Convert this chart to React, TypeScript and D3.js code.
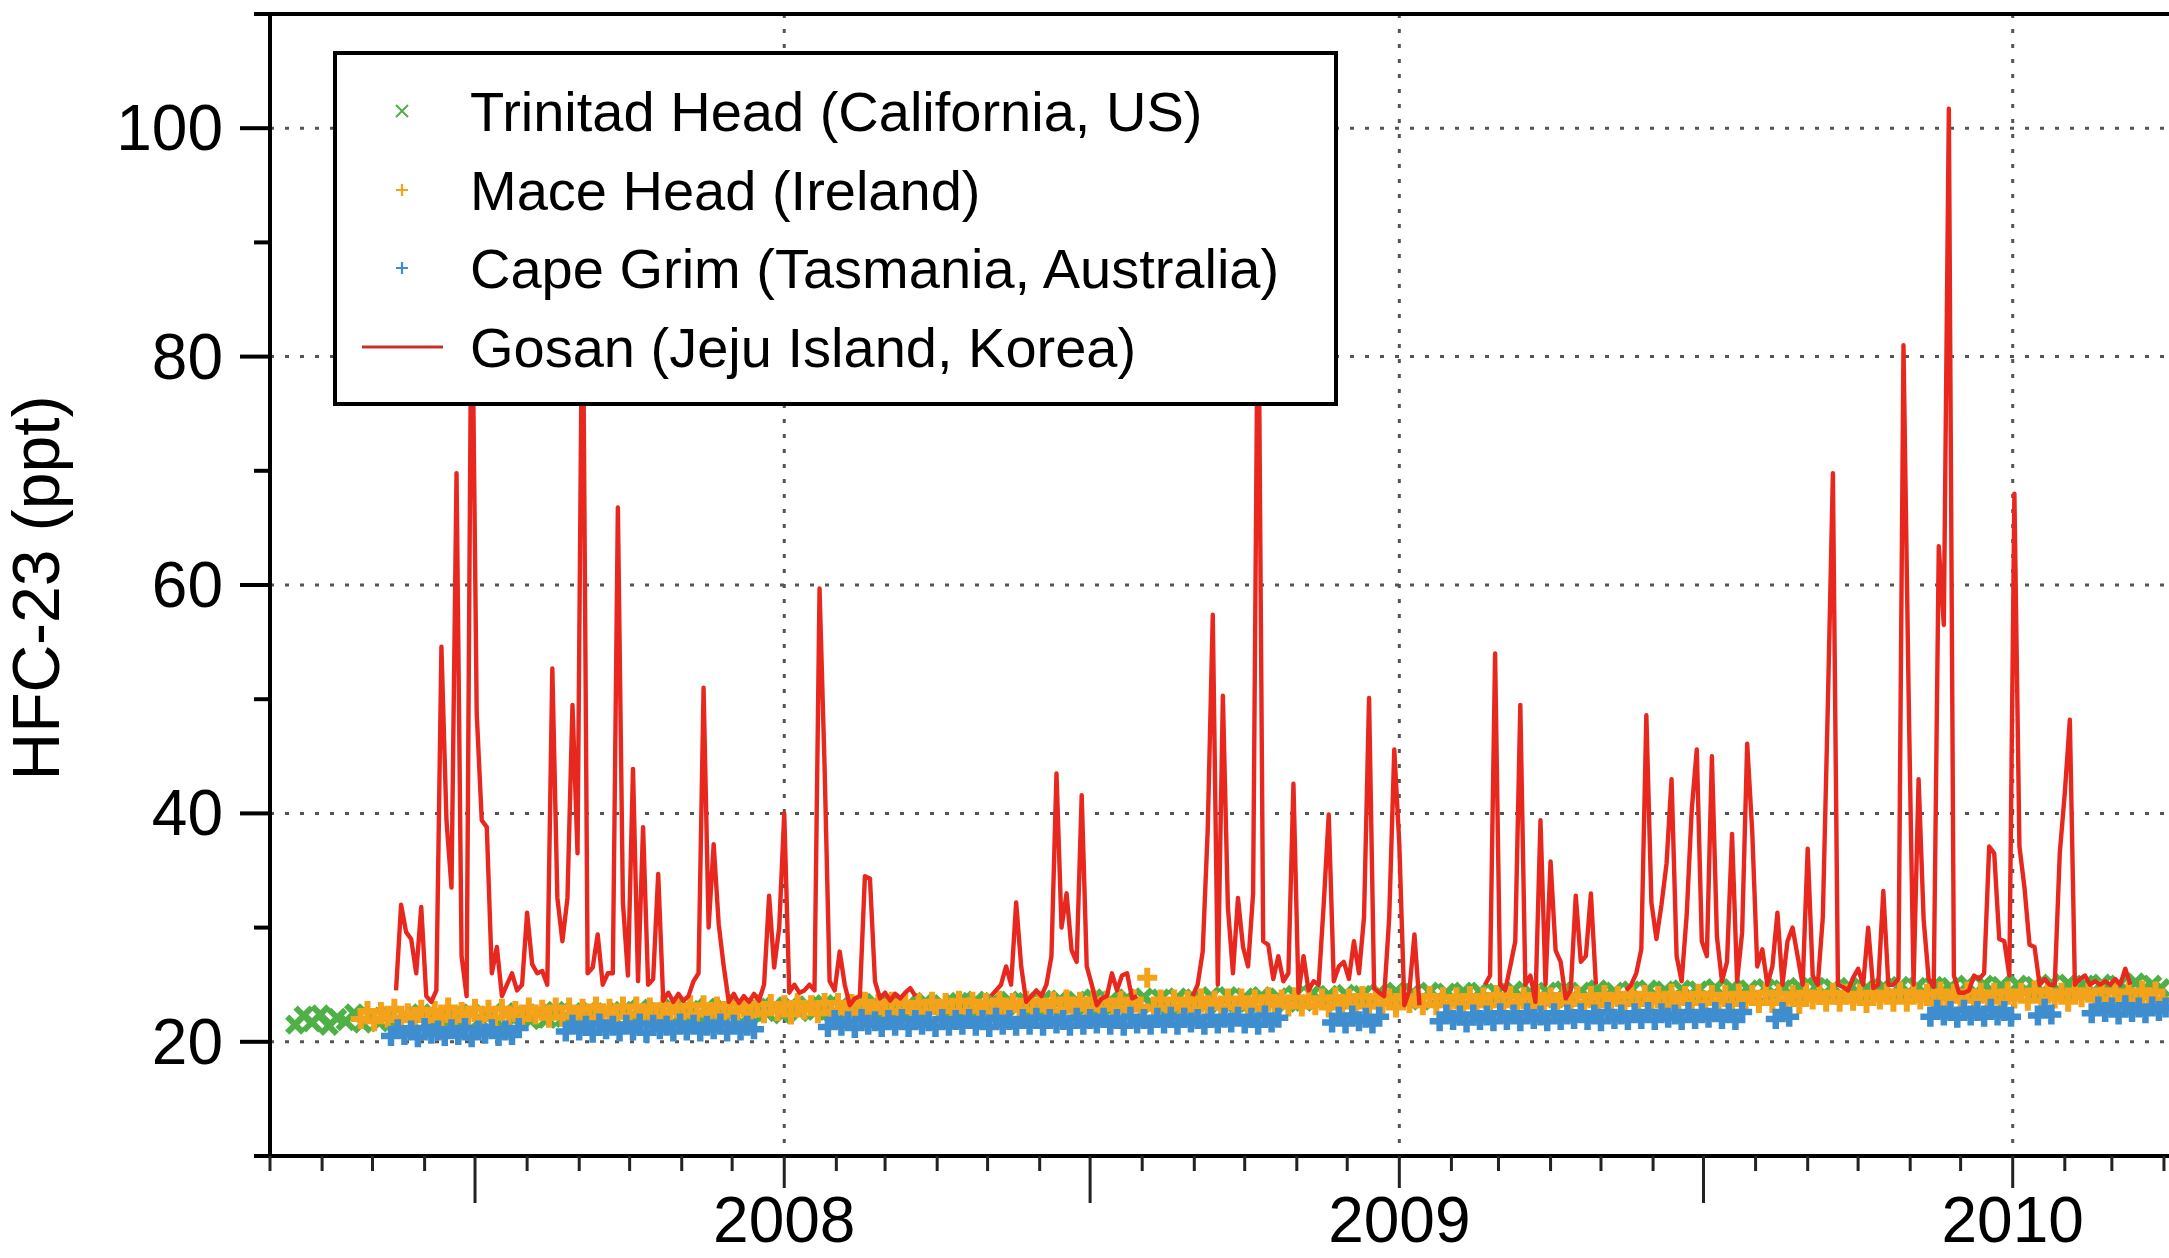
import * as d3 from "d3";

const W = 2169;
const H = 1258;
const frame = { left: 270, right: 2169, top: 14, bottom: 1156 };

const xDomain = ["2007-03-01", "2010-04-04"];
const yDomain = [10, 110];
const yMajorTicks = [20, 40, 60, 80, 100];
const yMinorTicks = [10, 30, 50, 70, 90, 110];
const yearTicks = ["2008-01-01", "2009-01-01", "2010-01-01"];

const stationNames = [
  "Trinitad Head (California, US)",
  "Mace Head (Ireland)",
  "Cape Grim (Tasmania, Australia)",
  "Gosan (Jeju Island, Korea)",
];
const stationColors = ["#4fb047", "#f5a21b", "#3e8dcf", "#e8281e"];

// Trinidad Head, one reading every 5 days
const trinidadStart = "2007-03-16";
const trinidadStep = 5;
const trinidadHead = [
  21.5, 22.3, 21.7, 22.4, 21.4, 22.1, 21.8, 22.5, 21.6, 22.2,
  21.7, 22.4, 21.8, 22.3, 21.6, 22.5, 21.9, 22.2, 21.7, 22.4,
  21.8, 22.5, 21.9, 22.3, 21.8, 22.6, 22.0, 22.4, 21.9, 22.5,
  22.0, 22.7, 22.1, 22.6, 21.9, 22.8, 22.2, 22.6, 22.0, 22.7,
  22.2, 22.9, 22.3, 22.8, 22.1, 22.9, 22.4, 22.8, 22.2, 23.0,
  22.4, 23.0, 22.5, 23.1, 22.3, 23.0, 22.6, 23.1, 22.4, 23.2,
  22.6, 23.2, 22.7, 23.3, 22.5, 23.2, 22.8, 23.3, 22.6, 23.4,
  22.7, 23.4, 22.8, 23.3, 22.7, 23.5, 22.9, 23.3, 22.8, 23.5,
  22.9, 23.6, 23.0, 23.5, 22.9, 23.6, 23.1, 23.5, 23.0, 23.7,
  23.0, 23.7, 23.1, 23.6, 23.0, 23.8, 23.2, 23.6, 23.1, 23.8,
  23.2, 23.9, 23.3, 23.8, 23.2, 23.9, 23.4, 23.8, 23.3, 24.0,
  23.3, 24.0, 23.4, 23.9, 23.3, 24.0, 23.5, 23.9, 23.4, 24.1,
  23.5, 24.2, 23.6, 24.1, 23.5, 24.2, 23.7, 24.1, 23.6, 24.3,
  23.6, 24.4, 23.7, 24.3, 23.6, 24.4, 23.8, 24.3, 23.7, 24.4,
  23.7, 24.4, 23.8, 24.3, 23.7, 24.5, 23.9, 24.3, 23.8, 24.4,
  23.8, 24.5, 23.9, 24.4, 23.8, 24.6, 24.0, 24.4, 23.9, 24.5,
  23.9, 24.6, 24.0, 24.5, 23.9, 24.6, 24.1, 24.5, 24.0, 24.7,
  24.0, 24.7, 24.1, 24.6, 24.0, 24.7, 24.2, 24.6, 24.1, 24.8,
  24.1, 24.8, 24.2, 24.7, 24.1, 24.8, 24.3, 24.7, 24.2, 24.8,
  24.2, 24.9, 24.3, 24.8, 24.2, 24.9, 24.4, 24.8, 24.3, 25.0,
  24.3, 25.0, 24.4, 24.9, 24.3, 25.0, 24.5, 24.9, 24.4, 25.1,
  24.4, 25.1, 24.5, 25.0, 24.4, 25.1, 24.6, 25.0, 24.5, 25.2,
  24.6, 25.0, 24.7,
];

// Mace Head, one reading every 4 days
const maceStart = "2007-04-24";
const maceStep = 4;
const maceHead = [
  22.0, 22.7, 21.8, 22.6, 22.1, 22.9, 21.9, 22.5, 22.2, 22.8,
  21.9, 22.7, 22.2, 23.0, 21.9, 22.6, 22.3, 22.9, 22.0, 22.8,
  22.1, 22.9, 22.3, 22.7, 22.0, 23.0, 22.4, 22.8, 22.1, 23.0,
  22.2, 23.0, 22.4, 22.9, 22.1, 23.1, 22.5, 22.9, 22.2, 23.1,
  22.3, 23.1, 22.5, 23.0, 22.2, 23.2, 22.6, 23.0, 22.3, 23.2,
  22.4, 23.2, 22.6, 23.1, 22.3, 23.3, 22.7, 23.1, 22.4, 23.3,
  22.5, 23.3, 22.7, 23.2, 22.4, 23.4, 22.8, 23.2, 22.5, 23.4,
  22.6, 23.4, 22.8, 23.3, 22.5, 23.5, 22.9, 23.3, 22.6, 23.5,
  22.7, 23.4, 22.8, 23.4, 22.6, 23.5, 22.9, 23.4, 22.7, 23.6,
  22.7, 23.5, 22.9, 23.4, 22.6, 23.6, 23.0, 23.4, 22.8, 23.6,
  22.8, 23.6, 23.0, 23.5, 22.7, 23.7, 23.1, 23.5, 22.9, 23.7,
  22.9, 23.6, 23.0, 23.6, 22.8, 23.7, 23.1, 25.6, 22.9, 23.7,
  22.9, 23.7, 23.1, 23.6, 22.8, 23.8, 23.2, 23.6, 23.0, 23.8,
  23.0, 23.8, 23.2, 23.7, 22.9, 23.9, 23.3, 23.7, 23.1, 23.9,
  23.1, 23.8, 23.2, 23.8, 23.0, 23.9, 23.3, 23.8, 23.1, 24.0,
  23.1, 23.9, 23.3, 23.8, 23.0, 24.0, 23.4, 23.8, 23.2, 24.0,
  23.2, 23.9, 23.3, 23.9, 23.1, 24.0, 23.4, 23.9, 23.2, 24.1,
  23.2, 24.0, 23.4, 23.9, 23.1, 24.1, 23.5, 23.9, 23.3, 24.1,
  23.3, 24.0, 23.4, 24.0, 23.2, 24.1, 23.5, 24.0, 23.3, 24.2,
  23.3, 24.1, 23.5, 24.0, 23.2, 24.2, 23.6, 24.0, 23.4, 24.2,
  23.4, 24.1, 23.5, 24.1, 23.3, 24.2, 23.6, 24.1, 23.4, 24.3,
  23.4, 24.2, 23.6, 24.1, 23.3, 24.3, 23.7, 24.1, 23.5, 24.3,
  23.5, 24.2, 23.6, 24.2, 23.4, 24.3, 23.7, 24.2, 23.5, 24.4,
  23.5, 24.3, 23.7, 24.2, 23.4, 24.4, 23.8, 24.2, 23.6, 24.4,
  23.6, 24.3, 23.7, 24.3, 23.5, 24.4, 23.8, 24.3, 23.6, 24.5,
  23.6, 24.4, 23.8, 24.3, 23.5, 24.5, 23.9, 24.3, 23.7, 24.5,
  23.7, 24.4, 23.8, 24.4, 23.6, 24.5, 23.9, 24.4, 23.7,
];

// Cape Grim, one reading every 4 days (null = no data)
const capeGrimStart = "2007-05-12";
const capeGrimStep = 4;
const capeGrim = [
  20.5, 21.1, 20.6, 21.0, 20.4, 21.2, 20.7, 21.0, 20.5, 21.1,
  20.6, 21.2, 20.4, 21.0, 20.7, 21.1, 20.5, 21.0, 20.6, 21.2,
  null, null, null, null, null, null,
  20.9, 21.5, 21.0, 21.4, 20.8, 21.6, 21.1, 21.4, 20.9, 21.5,
  21.0, 21.6, 20.8, 21.5, 21.1, 21.4, 20.9, 21.6, 21.0, 21.5,
  20.9, 21.4, 21.1, 21.6, 20.9, 21.5, 21.0, 21.4, 21.1,
  null, null, null, null, null, null, null, null, null, null,
  21.3, 21.9, 21.4, 21.8, 21.2, 22.0, 21.5, 21.8, 21.3, 21.9,
  21.4, 22.0, 21.3, 21.9, 21.5, 21.8, 21.3, 22.0, 21.4, 21.9,
  21.5, 22.0, 21.4, 21.9, 21.3, 22.1, 21.5, 21.9, 21.4, 22.0,
  21.5, 22.1, 21.4, 22.0, 21.6, 21.9, 21.4, 22.1, 21.5, 22.0,
  21.6, 22.1, 21.5, 22.0, 21.4, 22.2, 21.6, 22.0, 21.5, 22.1,
  21.6, 22.2, 21.5, 22.1, 21.7, 22.0, 21.5, 22.2, 21.6, 22.1,
  21.7, 22.2, 21.6, 22.1, 21.5, 22.3, 21.7, 22.1,
  null, null, null, null, null, null, null,
  21.7, 22.2, 21.6, 22.3, 21.8, 22.1, 21.6, 22.2,
  null, null, null, null, null, null, null, null,
  21.8, 22.4, 21.9, 22.3, 21.7, 22.4, 21.9, 22.3, 21.8, 22.5,
  21.9, 22.4, 21.8, 22.5, 22.0, 22.3, 21.8, 22.5, 21.9, 22.4,
  22.0, 22.5, 21.9, 22.4, 21.8, 22.6, 22.0, 22.4, 21.9, 22.5,
  22.0, 22.6, 21.9, 22.5, 22.1, 22.4, 21.9, 22.6, 22.0, 22.5,
  22.1, 22.6, 22.0, 22.5, 21.9, 22.6,
  null, null, null, null,
  22.0, 22.6, 22.2,
  null, null, null, null, null, null, null, null, null, null,
  null, null, null, null, null, null, null, null, null, null,
  22.2, 22.8, 22.3, 22.7, 22.1, 22.8, 22.3, 22.7, 22.2, 22.9,
  22.3, 22.7, 22.2,
  null, null, null,
  22.3, 22.9, 22.4,
  null, null, null, null, null,
  22.5, 23.1, 22.6, 23.0, 22.4, 23.2, 22.6, 23.0, 22.5, 23.1,
  22.7, 23.0,
];

// Gosan, one reading every 3 days (null = no data)
const gosanStart = "2007-05-15";
const gosanStep = 3;
const gosan = [
  24.5, 32, 29.6, 29, 26, 31.8, 24, 23.5, 24.5, 54.6,
  39.4, 33.5, 69.8, 27.5, 24, 90, 48.8, 39.4, 38.8, 26,
  28.3, 24, 25, 26, 24.5, 25, 31.3, 26.8, 26, 26.2,
  25, 52.7, 32.6, 28.8, 32.6, 49.5, 36.5, 90, 26, 26.5,
  29.4, 25, 26, 26, 66.8, 32.2, 25.8, 43.9, 25.3, 38.8,
  25, 25.5, 34.7, 23.6, 24.3, 23.5, 24.2, 23.6, 24, 25.3,
  26, 51, 30, 37.3, 30.3, 26.6, 23.5, 24.2, 23.4, 24,
  23.5, 24.2, 23.6, 25, 32.8, 26.5, 30, 40, 24.3, 25,
  24.3, 24.5, 25, 24.5, 59.7, 44.1, 25.3, 24.5, 27.9, 25,
  23.2, 23.8, 24, 34.5, 34.3, 25.3, 23.8, 24.3, 23.6, 24.2,
  23.8, 24.3, 24.7, 24, null, null, null, null, null, null,
  null, null, null, null, null, null, null, null, 24, 24.5,
  25, 26.6, 25, 32.2, 26.6, 23.5, 24, 24.5, 24, 25,
  27.5, 43.5, 30, 33, 28, 27, 41.6, 26.6, 25, 23.2,
  23.8, 24, 26, 24.5, 25.8, 26, 23.8, 24, null, null,
  null, null, null, null, null, null, null, null, 24, 25,
  27.9, 38.6, 57.4, 25, 50.3, 31.8, 26, 32.6, 28.3, 26.6,
  33, 90, 28.8, 28.5, 25.5, 27.5, 25.3, 26, 42.6, 24.3,
  27.5, 24.5, 25.3, 25, 32, 39.9, 25.3, 26.6, 27, 25.5,
  28.8, 26, 30.9, 50.1, 24.7, 24.3, 24, 30.9, 45.6, 37.3,
  23.2, 24.5, 29.4, 23.2, null, null, null, null, null, null,
  null, null, null, null, null, null, 25, 25.8, 54, 25,
  24.5, 26.6, 28.8, 49.5, 25, 25.8, 23.5, 39.4, 25, 35.8,
  28, 27, 23.8, 24.5, 32.8, 27, 27.5, 33, 25, null,
  null, null, null, null, 24.5, 25, 26, 28.1, 48.6, 32.2,
  29, 32, 35.6, 43, 27.5, 25.3, 31.1, 40.3, 45.6, 28.8,
  27.5, 45, 29.2, 25.3, 27, 38.2, 25.3, 29.6, 46.1, 38.4,
  26.6, 28.1, 25, 26.6, 31.3, 25, 28.8, 30, 27.5, 25,
  36.9, 25.8, 25, 30.9, 49.5, 69.8, 25, 24.8, 24.5, 25.6,
  26.4, 25, 30, 24.7, 25, 33.2, 25, 25, 25.5, 81,
  51, 25, 43, 30.7, 25.5, 24.8, 63.4, 56.5, 101.7, 25.8,
  24.3, 24.3, 24.5, 25.8, 25.5, 26, 37.1, 36.5, 29, 28.8,
  25.8, 68, 37.1, 33.5, 28.5, 28.3, 25, 25.5, 25, 25,
  36.5, 41.8, 48.2, 25, 25.5, 25.8, 25, 25.3, 25, 25.3,
  25, 25.5, 25, 26.4, 25,
];

type Pt = { date: Date; value: number | null };

const parse = d3.utcParse("%Y-%m-%d");

function series(start: string, step: number, values: (number | null)[]): Pt[] {
  const t0 = parse(start) as Date;
  return values.map((v, i) => ({ date: d3.utcDay.offset(t0, i * step), value: v }));
}

const FONT = "'Liberation Sans', Arial, Helvetica, sans-serif";

export default function App() {
  const x = d3
    .scaleUtc()
    .domain(xDomain.map((d) => parse(d) as Date))
    .range([frame.left, frame.right]);
  const y = d3.scaleLinear().domain(yDomain).range([frame.bottom, frame.top]);

  const trin = series(trinidadStart, trinidadStep, trinidadHead);
  const mace = series(maceStart, maceStep, maceHead);
  const cape = series(capeGrimStart, capeGrimStep, capeGrim);
  const gos = series(gosanStart, gosanStep, gosan);

  const plusPath = (pts: Pt[], s: number) =>
    pts
      .filter((p) => p.value != null)
      .map((p) => {
        const cx = x(p.date);
        const cy = y(p.value as number);
        return `M${cx - s},${cy}h${2 * s}M${cx},${cy - s}v${2 * s}`;
      })
      .join("");

  const crossPath = (pts: Pt[], s: number) =>
    pts
      .filter((p) => p.value != null)
      .map((p) => {
        const cx = x(p.date);
        const cy = y(p.value as number);
        return `M${cx - s},${cy - s}l${2 * s},${2 * s}M${cx - s},${cy + s}l${2 * s},${-2 * s}`;
      })
      .join("");

  const gosanLine = d3
    .line<Pt>()
    .defined((d) => d.value != null)
    .x((d) => x(d.date))
    .y((d) => y(d.value as number));

  const months = x.ticks(d3.utcMonth.every(1) as d3.TimeInterval);

  // legend geometry
  const lg = { x: 335, y: 53, w: 1001, h: 351 };
  const rowY = [111, 190, 268, 347];
  const symX = 402;
  const textX = 470;

  return (
    <svg
      width={W}
      height={H}
      style={{ position: "absolute", left: 0, top: 0, background: "#fff" }}
      fontFamily={FONT}
    >
      <defs>
        <clipPath id="plot">
          <rect x={frame.left} y={frame.top} width={frame.right - frame.left} height={frame.bottom - frame.top} />
        </clipPath>
      </defs>
      <rect width={W} height={H} fill="#fff" />

      {/* dotted grid */}
      <g stroke="#555" strokeWidth={3} strokeDasharray="4 11">
        {yMajorTicks.map((t) => (
          <line key={"gy" + t} x1={frame.left} x2={frame.right} y1={y(t)} y2={y(t)} />
        ))}
        {yearTicks.map((t) => {
          const xx = x(parse(t) as Date);
          return <line key={"gx" + t} x1={xx} x2={xx} y1={frame.top} y2={frame.bottom} />;
        })}
      </g>

      {/* data */}
      <g clipPath="url(#plot)" fill="none">
        <path d={crossPath(trin, 8)} stroke={stationColors[0]} strokeWidth={6} />
        <path d={plusPath(mace, 10)} stroke={stationColors[1]} strokeWidth={6} />
        <path d={plusPath(cape, 10)} stroke={stationColors[2]} strokeWidth={6.5} />
        <path
          d={gosanLine(gos) || ""}
          stroke={stationColors[3]}
          strokeWidth={4.4}
          strokeLinejoin="round"
        />
      </g>

      {/* axes */}
      <g stroke="#000" strokeWidth={4}>
        <line x1={frame.left} x2={frame.left} y1={frame.top - 2} y2={frame.bottom + 2} />
        <line x1={frame.left - 16} x2={frame.right} y1={frame.bottom} y2={frame.bottom} />
        <line x1={frame.left - 16} x2={frame.right} y1={frame.top} y2={frame.top} />
        {yMajorTicks.map((t) => (
          <line key={"ty" + t} x1={frame.left - 30} x2={frame.left} y1={y(t)} y2={y(t)} />
        ))}
        {yMinorTicks.map((t) => (
          <line key={"tm" + t} x1={frame.left - 16} x2={frame.left} y1={y(t)} y2={y(t)} />
        ))}
      </g>
      <g stroke="#222" strokeWidth={3}>
        {months.map((m) => {
          const mo = m.getUTCMonth();
          const len = mo === 6 ? 47 : mo === 0 ? 32 : 15;
          const xx = x(m);
          return <line key={m.toISOString()} x1={xx} x2={xx} y1={frame.bottom} y2={frame.bottom + len} />;
        })}
      </g>

      {/* tick labels */}
      <g fontSize={64} fill="#000">
        {yMajorTicks.map((t) => (
          <text key={"ly" + t} x={223} y={y(t)} textAnchor="end" dominantBaseline="central">
            {t}
          </text>
        ))}
        {yearTicks.map((t) => (
          <text key={"lx" + t} x={x(parse(t) as Date)} y={1242} textAnchor="middle">
            {t.slice(0, 4)}
          </text>
        ))}
      </g>
      <text
        transform={`translate(36,588) rotate(-90)`}
        textAnchor="middle"
        dominantBaseline="central"
        fontSize={66}
        fill="#000"
      >
        HFC-23 (ppt)
      </text>

      {/* legend */}
      <g>
        <rect x={lg.x} y={lg.y} width={lg.w} height={lg.h} fill="#fff" stroke="#000" strokeWidth={4} />
        <path
          d={`M${symX - 6},${rowY[0] - 6}l12,12M${symX - 6},${rowY[0] + 6}l12,-12`}
          stroke={stationColors[0]}
          strokeWidth={2}
        />
        <path d={`M${symX - 6},${rowY[1]}h12M${symX},${rowY[1] - 6}v12`} stroke={stationColors[1]} strokeWidth={2.2} />
        <path d={`M${symX - 6},${rowY[2]}h12M${symX},${rowY[2] - 6}v12`} stroke={stationColors[2]} strokeWidth={2.2} />
        <line x1={362} x2={443} y1={rowY[3]} y2={rowY[3]} stroke="#c9302a" strokeWidth={3} />
        {stationNames.map((n, i) => (
          <text key={n} x={textX} y={rowY[i]} dominantBaseline="central" fontSize={56} fill="#000">
            {n}
          </text>
        ))}
      </g>
    </svg>
  );
}
